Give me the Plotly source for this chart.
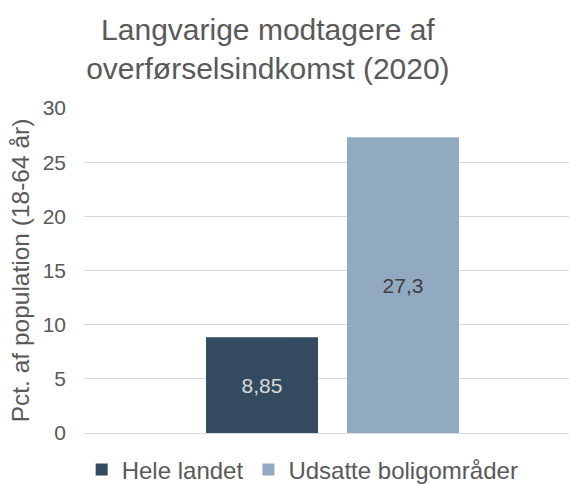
import plotly.graph_objects as go

categories = ["2020"]
series_names = ["Hele landet", "Udsatte boligområder"]
series_values = [[8.85], [27.3]]
colors = ["#344B5F", "#91AAC2"]
label_colors = ["#D9D9D9", "#404040"]
y_ticks = [0, 5, 10, 15, 20, 25, 30]

FONT = "Liberation Sans, Arial, sans-serif"
fig = go.Figure()
for name, vals, col, lcol in zip(series_names, series_values, colors, label_colors):
    fig.add_trace(go.Bar(
        x=categories, y=vals, name=name,
        marker=dict(color=col, line=dict(width=0)),
        text=[f"{v:g}".replace(".", ",") for v in vals],
        textposition="inside", insidetextanchor="middle",
        textfont=dict(family=FONT, size=21, color=lcol),
        cliponaxis=False,
    ))

fig.update_layout(
    width=570, height=484,
    margin=dict(l=84, r=1, t=108, b=51),
    paper_bgcolor="white", plot_bgcolor="white",
    barmode="group", bargap=0.4186, bargroupgap=0.2057,
    separators=",.",
    title=dict(text="Langvarige modtagere af<br>overførselsindkomst (2020)",
               x=0.47, xanchor="center", xref="container",
               y=1 - 40 / 484, yanchor="top", yref="container",
               font=dict(family=FONT, size=30, color="#595959")),
    font=dict(family=FONT, color="#595959"),
    showlegend=True,
    legend=dict(orientation="h", x=0.531, xanchor="center", xref="container",
                y=1 - 470 / 484, yanchor="middle", yref="container",
                font=dict(family=FONT, size=24, color="#595959"),
                itemwidth=30, tracegroupgap=0),
    xaxis=dict(showticklabels=False, showgrid=False, zeroline=False,
               range=[-0.5124, 0.4876], fixedrange=True),
    yaxis=dict(range=[0, 30], tickvals=y_ticks, showgrid=True,
               gridcolor="#D9D9D9", gridwidth=1, zeroline=True,
               zerolinecolor="#D9D9D9", zerolinewidth=1,
               tickfont=dict(family=FONT, size=21, color="#595959"),
               ticklabelstandoff=17,
               title=dict(text="Pct. af population (18-64 år)",
                          font=dict(family=FONT, size=24.5, color="#595959"),
                          standoff=6)),
)

fig.write_html("out.html")
